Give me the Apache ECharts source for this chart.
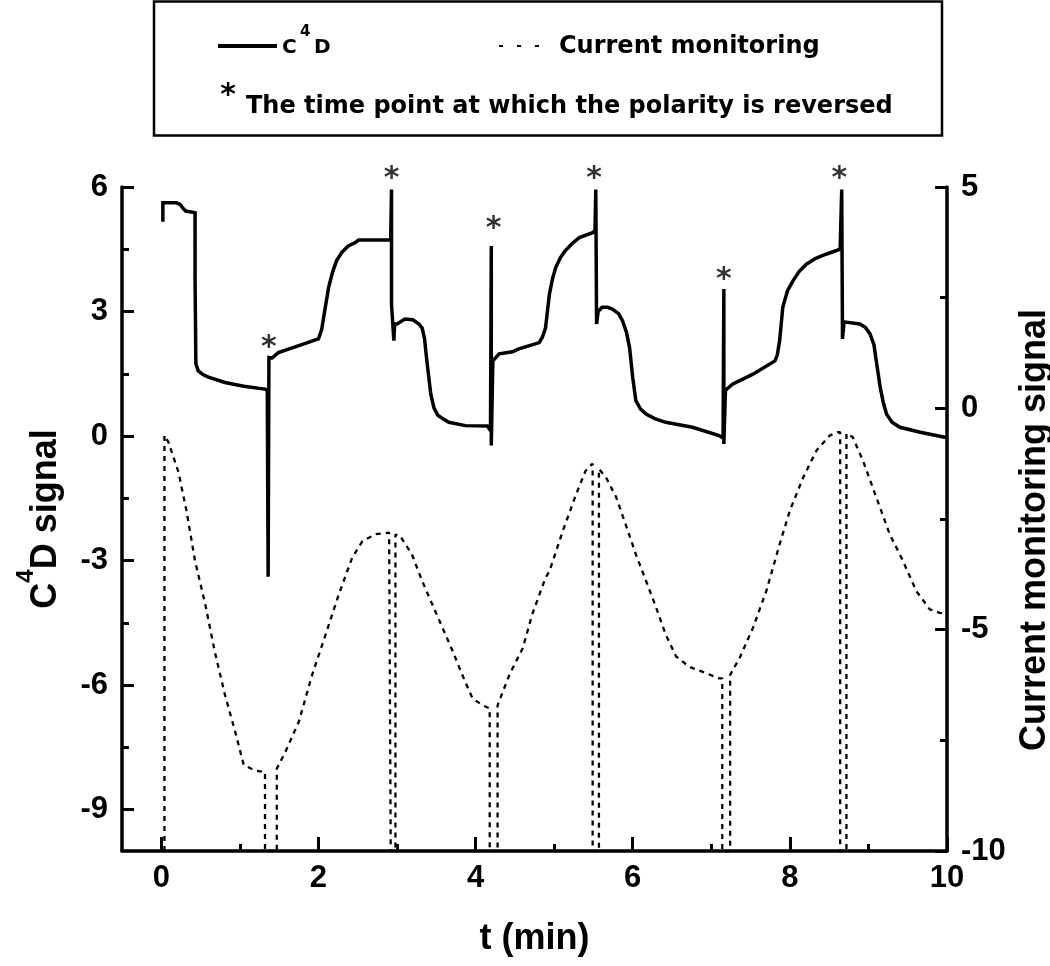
<!DOCTYPE html>
<html><head><meta charset="utf-8">
<script src="https://cdn.jsdelivr.net/npm/echarts@6/dist/echarts.min.js"></script>
<style>html,body{margin:0;padding:0;background:#fff}#c{width:1050px;height:966px}</style>
</head><body><div id="c"></div>
<script>
// C4D signal (left axis)
const c4dT = [0.02,0.02,0.19,0.24,0.27,0.31,0.38,0.43,0.43,0.44,0.47,0.53,0.6,0.81,1.05,1.32,1.35,1.35,1.36,1.37,1.41,1.49,1.75,2.0,2.04,2.08,2.13,2.18,2.23,2.3,2.38,2.47,2.51,2.92,2.93,2.93,2.95,2.96,2.97,3.0,3.1,3.2,3.28,3.32,3.35,3.38,3.43,3.47,3.52,3.58,3.66,3.87,4.15,4.19,4.2,4.2,4.22,4.3,4.47,4.55,4.76,4.81,4.85,4.89,4.94,4.98,5.02,5.08,5.14,5.23,5.32,5.49,5.52,5.53,5.54,5.56,5.61,5.68,5.74,5.82,5.87,5.92,5.96,6.0,6.04,6.1,6.17,6.28,6.42,6.76,7.1,7.15,7.16,7.16,7.18,7.21,7.27,7.53,7.81,7.84,7.87,7.91,7.97,8.04,8.12,8.21,8.33,8.46,8.64,8.66,8.67,8.69,8.71,8.89,8.96,9.02,9.07,9.1,9.15,9.19,9.23,9.3,9.4,9.66,9.97,10.0];
const c4dV = [5.16,5.62,5.62,5.58,5.5,5.42,5.4,5.38,3.8,1.74,1.57,1.48,1.42,1.29,1.2,1.13,1.1,0.78,-3.39,1.89,1.88,2.01,2.18,2.34,2.55,3.02,3.58,3.95,4.22,4.43,4.58,4.66,4.72,4.72,5.94,3.18,3.18,2.3,2.7,2.7,2.82,2.8,2.7,2.6,2.35,1.81,1.01,0.68,0.5,0.42,0.33,0.25,0.24,0.13,4.58,-0.23,1.81,1.98,2.03,2.1,2.22,2.25,2.38,2.6,3.42,3.8,4.06,4.3,4.46,4.64,4.78,4.9,4.95,5.94,2.7,3.0,3.1,3.1,3.06,2.95,2.78,2.5,2.13,1.41,0.85,0.65,0.53,0.42,0.33,0.21,0.01,-0.05,3.54,-0.19,1.1,1.15,1.25,1.49,1.81,1.95,2.3,3.1,3.5,3.74,3.97,4.14,4.28,4.38,4.5,5.94,2.34,2.75,2.78,2.7,2.62,2.46,2.2,1.81,1.17,0.8,0.53,0.33,0.21,0.09,-0.03,-0.04];
// Current monitoring signal (right axis)
const curT = [0.04,0.04,0.09,0.22,0.32,0.43,0.56,0.68,0.81,0.94,1.05,1.19,1.32,1.32,1.47,1.47,1.58,1.75,1.92,2.09,2.26,2.43,2.56,2.73,2.9,2.92,2.92,2.98,2.98,3.04,3.19,3.32,3.45,3.58,3.71,3.83,3.96,4.09,4.18,4.18,4.28,4.28,4.43,4.6,4.72,4.89,4.94,5.11,5.28,5.4,5.49,5.49,5.57,5.57,5.66,5.79,5.91,6.04,6.17,6.3,6.42,6.55,6.72,6.93,7.1,7.14,7.14,7.24,7.24,7.36,7.53,7.7,7.87,8.0,8.17,8.34,8.51,8.61,8.64,8.64,8.72,8.72,8.8,8.93,9.1,9.27,9.44,9.61,9.78,9.91,10.0];
const curV = [-10,-0.61,-0.76,-1.45,-2.31,-3.45,-4.43,-5.49,-6.47,-7.3,-8.06,-8.18,-8.22,-10,-10,-8.14,-7.76,-7.08,-6.02,-5.12,-4.2,-3.37,-3.0,-2.84,-2.81,-2.81,-10,-10,-2.85,-2.88,-3.3,-3.9,-4.43,-4.96,-5.49,-6.02,-6.55,-6.71,-6.78,-10,-10,-6.71,-6.02,-5.42,-4.66,-3.83,-3.68,-2.77,-1.94,-1.41,-1.25,-10,-10,-1.37,-1.56,-2.01,-2.62,-3.3,-3.9,-4.51,-5.11,-5.6,-5.84,-5.98,-6.1,-6.1,-10,-10,-6.02,-5.64,-4.96,-4.13,-3.07,-2.31,-1.56,-0.95,-0.61,-0.54,-0.54,-10,-10,-0.57,-0.65,-1.18,-2.01,-2.84,-3.45,-4.13,-4.54,-4.62,-4.65];
// polarity reversal markers (left axis units)
const starT = [1.37,2.93,4.23,5.51,7.16,8.63];
const starV = [2.3,6.38,5.18,6.38,3.94,6.38];
// ticks
const xTicks = [0,2,4,6,8,10];
const xMinor = [1,3,5,7,9];
const leftTicks = [6,3,0,-3,-6,-9];
const leftMinor = [4.5,1.5,-1.5,-4.5,-7.5];
const rightTicks = [5,0,-5,-10];
const rightMinor = [2.5,-2.5,-7.5];

const FF = '"DejaVu Sans"';
const FA = '"Liberation Sans", Arial, sans-serif';
const zip = (a,b)=>a.map((v,i)=>[v,b[i]]);
const lbl = {fontFamily:FA,fontWeight:'bold',fontSize:31,color:'#000'};
const ttl = {fontFamily:FA,fontWeight:'bold',fontSize:36,color:'#000'};
function axisBase(extra){
  return Object.assign({type:'value',splitLine:{show:false},axisPointer:{show:false}},extra);
}
const chart = echarts.init(document.getElementById('c'));
chart.setOption({
  animation:false,
  backgroundColor:'#fff',
  grid:{left:122,right:103,top:187,bottom:115,outerBoundsMode:'none',containLabel:false},
  xAxis:[
    axisBase({min:-0.5,max:10,position:'bottom',
      axisLine:{show:true,onZero:false,lineStyle:{color:'#000',width:3.5}},
      axisTick:{show:true,inside:true,length:14,customValues:xTicks,lineStyle:{color:'#000',width:3}},
      axisLabel:Object.assign({customValues:xTicks,margin:12},lbl),
      name:'t (min)',nameLocation:'middle',nameGap:70,
      nameTextStyle:ttl}),
    axisBase({min:-0.5,max:10,position:'bottom',offset:0,
      axisLine:{show:false,onZero:false},
      axisTick:{show:true,inside:true,length:7,customValues:xMinor,lineStyle:{color:'#000',width:3}},
      axisLabel:{show:false}})
  ],
  yAxis:[
    axisBase({min:-10,max:6,position:'left',offset:0,
      axisLine:{show:true,onZero:false,lineStyle:{color:'#000',width:3.5}},
      axisTick:{show:true,inside:true,length:12,customValues:leftTicks,lineStyle:{color:'#000',width:3}},
      axisLabel:Object.assign({customValues:leftTicks,margin:14},lbl),
      name:'{a|C}{s|4}{a|D signal}',nameLocation:'middle',nameRotate:90,nameGap:58,
      nameTextStyle:Object.assign({},ttl,{
        rich:{a:Object.assign({},ttl,{lineHeight:50,verticalAlign:'bottom'}),
              s:Object.assign({},ttl,{fontSize:24,lineHeight:24,verticalAlign:'top'})}})}),
    axisBase({min:-10,max:5,position:'right',offset:0,
      axisLine:{show:true,onZero:false,lineStyle:{color:'#000',width:3.5}},
      axisTick:{show:true,inside:true,length:12,customValues:rightTicks,lineStyle:{color:'#000',width:3}},
      axisLabel:Object.assign({customValues:rightTicks,margin:14},lbl),
      name:'Current monitoring signal',nameLocation:'middle',nameRotate:90,nameGap:62,
      nameTextStyle:Object.assign({},ttl,{padding:[0,22,0,0]})}),
    axisBase({min:-10,max:6,position:'left',offset:0,
      axisLine:{show:false,onZero:false},
      axisTick:{show:true,inside:true,length:7,customValues:leftMinor,lineStyle:{color:'#000',width:3}},
      axisLabel:{show:false}}),
    axisBase({min:-10,max:5,position:'right',offset:0,
      axisLine:{show:false,onZero:false},
      axisTick:{show:true,inside:true,length:7,customValues:rightMinor,lineStyle:{color:'#000',width:3}},
      axisLabel:{show:false}})
  ],
  series:[
    {type:'line',name:'C4D',xAxisIndex:0,yAxisIndex:0,data:zip(c4dT,c4dV),showSymbol:false,symbol:'none',
      lineStyle:{color:'#000',width:3.5,join:'miter'},clip:false},
    {type:'line',name:'Current monitoring',xAxisIndex:0,yAxisIndex:1,data:zip(curT,curV),showSymbol:false,symbol:'none',
      lineStyle:{color:'#000',width:2.3,type:[5,5]},clip:false},
    {type:'scatter',name:'reversal',xAxisIndex:0,yAxisIndex:0,data:zip(starT,starV),symbolSize:1,
      itemStyle:{color:'rgba(0,0,0,0)'},clip:false,
      label:{show:true,position:'inside',formatter:'*',fontFamily:FF,fontWeight:'bold',fontSize:30,color:'#000',offset:[0,8]}}
  ],
  graphic:[
    {type:'rect',shape:{x:154,y:1.5,width:788,height:134},style:{fill:'none',stroke:'#000',lineWidth:2.5}},
    {type:'line',shape:{x1:218,y1:46,x2:277,y2:46},style:{stroke:'#000',lineWidth:4}},
    {type:'text',x:282,y:48,style:{text:'C',font:'bold 20px "DejaVu Sans"',fill:'#000',textVerticalAlign:'middle'}},
    {type:'text',x:300,y:32,style:{text:'4',font:'bold 15px "DejaVu Sans"',fill:'#000',textVerticalAlign:'middle'}},
    {type:'text',x:314,y:48,style:{text:'D',font:'bold 20px "DejaVu Sans"',fill:'#000',textVerticalAlign:'middle'}},
    {type:'line',shape:{x1:499,y1:46,x2:551,y2:46},style:{stroke:'#000',lineWidth:2,lineDash:[4,14]}},
    {type:'text',x:559,y:47,style:{text:'Current monitoring',font:'bold 24px "DejaVu Sans"',fill:'#000',textVerticalAlign:'middle'}},
    {type:'text',x:228,y:96,style:{text:'*',font:'bold 30px "DejaVu Sans"',fill:'#000',textAlign:'center',textVerticalAlign:'middle'}},
    {type:'text',x:246,y:107,style:{text:'The time point at which the polarity is reversed',font:'bold 24px "DejaVu Sans"',fill:'#000',textVerticalAlign:'middle'}}
  ]
});
</script></body></html>
